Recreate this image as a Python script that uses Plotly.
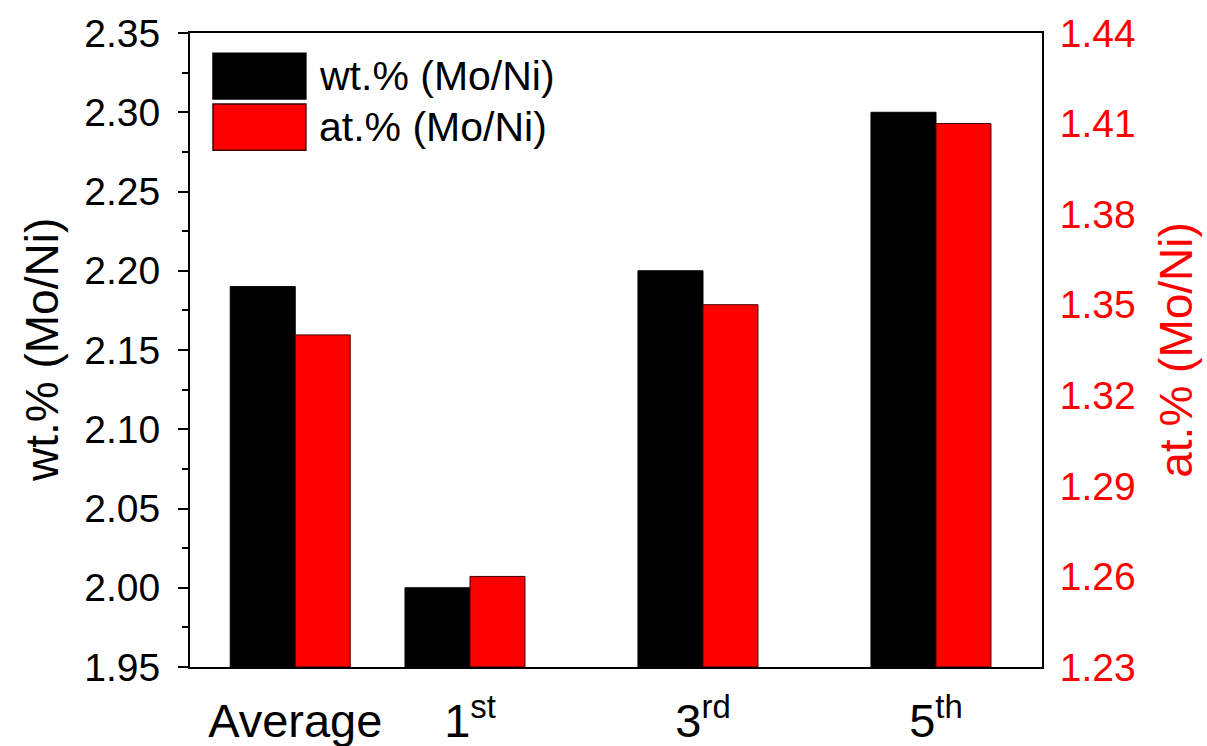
import plotly.graph_objects as go

# Sample positions along the x axis and their labels
categories = ["Average", "1<sup>st</sup>", "3<sup>rd</sup>", "5<sup>th</sup>"]
x_pos = [0.25, 1, 2, 3]

# Mo/Ni ratios
wt_ratio = [2.19, 2.00, 2.20, 2.30]   # left axis
at_ratio = [1.34, 1.26, 1.35, 1.41]   # right axis

wt_ticks = [1.95, 2.00, 2.05, 2.10, 2.15, 2.20, 2.25, 2.30, 2.35]
at_ticks = [1.23, 1.26, 1.29, 1.32, 1.35, 1.38, 1.41, 1.44]

WT_BASE = wt_ticks[0]
AT_BASE = at_ticks[0]

FONT = "Arial, Liberation Sans, sans-serif"
RED = "#ff0000"

fig = go.Figure()

# Bars start at the bottom of each axis range
fig.add_trace(go.Bar(
    x=x_pos, y=[v - WT_BASE for v in wt_ratio], name="wt.% (Mo/Ni)",
    base=WT_BASE, width=0.279, offset=-0.279,
    marker=dict(color="black", line=dict(color="black", width=1)),
    yaxis="y", showlegend=False,
))
fig.add_trace(go.Bar(
    x=x_pos, y=[v - AT_BASE for v in at_ratio], name="at.% (Mo/Ni)",
    base=AT_BASE, width=0.236, offset=0,
    marker=dict(color=RED, line=dict(color="#400000", width=1)),
    yaxis="y2", showlegend=False,
))

fig.update_layout(
    width=1207, height=746,
    margin=dict(l=190, r=165, t=33, b=79),
    paper_bgcolor="white", plot_bgcolor="white",
    font=dict(family=FONT, color="black"),
    barmode="overlay",
    xaxis=dict(
        range=[-0.2017, 3.455], automargin=False,
        tickvals=x_pos, ticktext=categories,
        tickfont=dict(size=47, color="black"),
        ticks="", showgrid=False, zeroline=False,
        showline=True, linecolor="black", linewidth=2, mirror=True,
        ticklabelstandoff=12,
    ),
    yaxis=dict(
        range=[WT_BASE, 2.35], automargin=False,
        tickvals=wt_ticks, ticktext=[f"{v:.2f}" for v in wt_ticks],
        tickfont=dict(size=39, color="black"),
        ticks="outside", ticklen=10, tickwidth=2, tickcolor="black",
        minor=dict(dtick=0.025, ticks="outside", ticklen=6, tickwidth=2,
                   tickcolor="black", tick0=1.95),
        showgrid=False, zeroline=False,
        showline=True, linecolor="black", linewidth=2,
        ticklabelstandoff=10,
    ),
    yaxis2=dict(
        range=[AT_BASE, 1.44], overlaying="y", side="right", automargin=False,
        tickvals=at_ticks, ticktext=[f"{v:.2f}" for v in at_ticks],
        tickfont=dict(size=39, color=RED),
        ticks="", showgrid=False, zeroline=False,
        showline=True, linecolor="black", linewidth=2,
        ticklabelstandoff=8,
    ),
)

# Axis titles
fig.add_annotation(text="wt.% (Mo/Ni)", xref="paper", yref="paper",
                   x=-0.1737, y=0.5, xanchor="center", yanchor="middle",
                   textangle=-90, showarrow=False,
                   font=dict(size=46, color="black", family=FONT))
fig.add_annotation(text="at.% (Mo/Ni)", xref="paper", yref="paper",
                   x=1.157, y=0.5, xanchor="center", yanchor="middle",
                   textangle=-90, showarrow=False,
                   font=dict(size=46, color=RED, family=FONT))

# Legend: swatches and labels
legend_items = [("wt.% (Mo/Ni)", "black", "black", 0.896, 0.968),
                ("at.% (Mo/Ni)", RED, "#400000", 0.815, 0.888)]
for label, fill, edge, y0, y1 in legend_items:
    fig.add_shape(type="rect", xref="x domain", yref="y domain",
                  x0=0.027, x1=0.136, y0=y0, y1=y1,
                  fillcolor=fill, line=dict(color=edge, width=1.5))
    fig.add_annotation(text=label, xref="x domain", yref="y domain",
                       x=0.149, y=(y0 + y1) / 2, xanchor="left",
                       yanchor="middle", showarrow=False,
                       font=dict(size=41, color="black", family=FONT))

fig.write_html("out.html")
